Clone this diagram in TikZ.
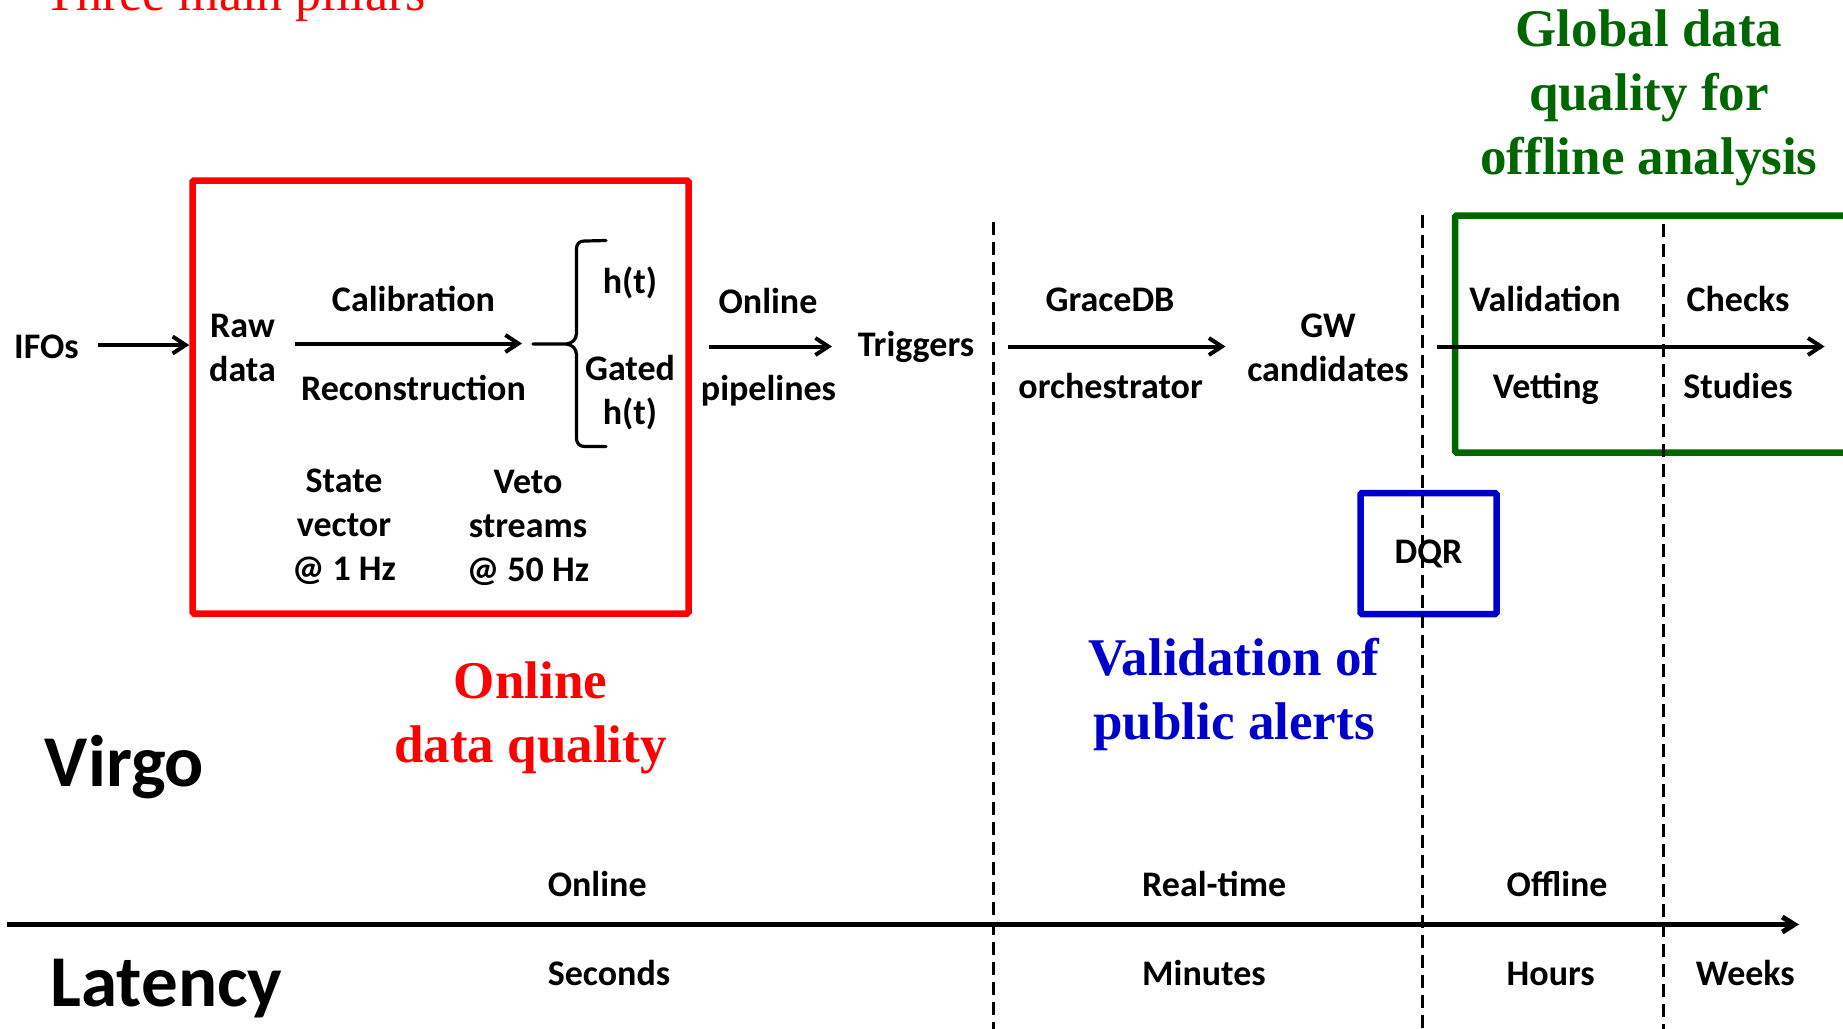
\documentclass[tikz,border=0pt]{standalone}
\usepackage{fontspec}
\setmainfont{Carlito}
\newfontfamily\tms{Liberation Serif}
\usetikzlibrary{arrows.meta}
\definecolor{myred}{RGB}{255,0,0}
\definecolor{mygreen}{RGB}{0,102,0}
\definecolor{myblue}{RGB}{0,0,204}
\tikzset{
  lbl/.style={font=\fontsize{36}{44}\selectfont\bfseries, inner sep=0pt, align=center},
  bl/.style={lbl, anchor=base},
  blw/.style={lbl, anchor=base west},
  big/.style={font=\fontsize{73}{80}\selectfont\bfseries, inner sep=0pt, anchor=base west},
  ttl/.style={font=\tms\fontsize{53}{64}\selectfont\bfseries, inner sep=0pt, align=center},
  flow/.style={line width=4pt, -{Straight Barb[length=13pt,width=17pt]}},
  sepline/.style={line width=3pt, dash pattern=on 13pt off 7pt},
  frame/.style={line width=6.5pt, rounded corners=1.5pt, inner sep=0pt}
}
\begin{document}
\begin{tikzpicture}[x=1pt,y=-1pt]
\useasboundingbox (0,0) rectangle (1843,1028);
\clip (0,0) rectangle (1843,1028);

% title
\node[font=\tms\fontsize{52}{60}\selectfont, text=myred, anchor=base, inner sep=0pt] (pillars) at (235,10) {Three main pillars};

% frames
\node[frame, draw=myred, minimum width=496pt, minimum height=433pt] (redbox) at (440.5,397) {};
\node[frame, draw=mygreen, minimum width=392pt, minimum height=237pt] (greenbox) at (1651,334) {};
\node[frame, draw=myblue, minimum width=136pt, minimum height=121pt, font=\fontsize{36}{44}\selectfont\bfseries] (dqr) at (1428.5,553.5) {DQR};

% separators
\coordinate (s1t) at (993,222);   \coordinate (s1b) at (993,1030);
\coordinate (s2t) at (1422,215);  \coordinate (s2b) at (1422,1030);
\coordinate (s3t) at (1663.5,224); \coordinate (s3b) at (1663.5,1030);
\draw[sepline] (s1t) -- (s1b);
\draw[sepline] (s2t) -- (s2b);
\draw[sepline] (s3t) -- (s3b);

% labels
\node[bl] (ifos) at (46.5,358.5) {IFOs};
\node[lbl] (raw) at (242.5,348) {Raw\\data};
\node[bl] (calib) at (413.5,311.7) {Calibration};
\node[bl] (recon) at (413.5,400) {Reconstruction};
\node[bl] (ht) at (630,293.3) {h(t)};
\node[lbl] (gated) at (630,393) {Gated\\h(t)};
\node[lbl] (state) at (344,527) {State\\vector\\@ 1 Hz};
\node[lbl] (veto) at (528,528) {Veto\\streams\\@ 50 Hz};
\node[bl] (onl) at (768,313.3) {Online};
\node[bl] (pipe) at (768.5,400) {pipelines};
\node[bl] (trig) at (916,356.7) {Triggers};
\node[bl] (grace) at (1110,311) {GraceDB};
\node[bl] (orch) at (1110.6,398.5) {orchestrator};
\node[lbl] (gw) at (1328,348.3) {GW\\candidates};
\node[bl] (valid) at (1545,311.7) {Validation};
\node[bl] (vett) at (1545.8,398.5) {Vetting};
\node[bl] (check) at (1738,311.7) {Checks};
\node[bl] (stud) at (1738,398.5) {Studies};

% titles
\node[ttl, text=myred] (odq) at (530.5,718) {Online\\data quality};
\node[ttl, text=myblue] (vpa) at (1234,694.4) {Validation of\\public alerts};
\node[ttl, text=mygreen] (gdq) at (1649,98) {Global data\\quality for\\offline analysis};

\node[big] (virgo) at (44.7,786.7) {Virgo};
\node[big] (lat) at (50.5,1006.7) {Latency};

% time axis labels
\node[blw] (tonl) at (547.6,896.7) {Online};
\node[blw] (tsec) at (547.6,985) {Seconds};
\node[blw] (trt) at (1142,896.7) {Real-time};
\node[blw] (tmin) at (1142,985) {Minutes};
\node[blw] (toff) at (1506.5,896.7) {Offline};
\node[blw] (thr) at (1506.5,985) {Hours};
\node[blw] (twk) at (1695.7,985) {Weeks};

% arrows
\coordinate (a1s) at (97.6,345);
\draw[flow] (a1s) -- (redbox.west |- a1s);
\coordinate (a2s) at (295.4,343.5); \coordinate (a2e) at (522,343.5);
\draw[flow] (a2s) -- (a2e);
\coordinate (a3s) at (708.7,346.5); \coordinate (a3e) at (832,346.5);
\draw[flow] (a3s) -- (a3e);
\coordinate (a4s) at (1007.8,346.5); \coordinate (a4e) at (1225.5,346.5);
\draw[flow] (a4s) -- (a4e);
\coordinate (a5s) at (1436.8,346.5); \coordinate (a5e) at (1824.6,346.5);
\draw[flow] (a5s) -- (a5e);
\coordinate (axs) at (7,924.5); \coordinate (axe) at (1799,924.5);
\draw[line width=5pt, -{Straight Barb[length=12pt,width=15pt]}] (axs) -- (axe);

% brace
\draw[line width=3.2pt, line cap=round, line join=round]
  (533,344) -- (566.5,344) .. controls (572,343) and (576.5,340) .. (576.5,333)
  -- (576.5,250) .. controls (576.5,243) and (579,241) .. (586,241) -- (606,240.5);
\draw[line width=3.2pt, line cap=round, line join=round]
  (566.5,344) .. controls (572,345) and (576.5,348) .. (576.5,355)
  -- (576.5,437) .. controls (576.5,444) and (579,446.5) .. (586,446.5) -- (606,446.5);
\end{tikzpicture}
\end{document}
